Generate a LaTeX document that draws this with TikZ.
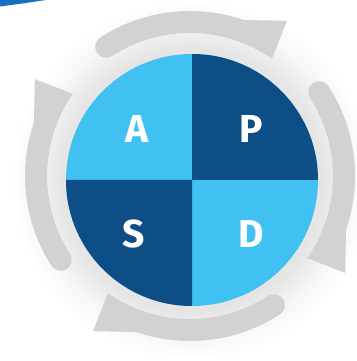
\documentclass[tikz,border=0pt]{standalone}
\usepackage{fontspec}
\setmainfont{Fira Sans}
\definecolor{lightq}{HTML}{40C1F1}
\definecolor{darkq}{HTML}{0D4E86}
\definecolor{ringgray}{HTML}{D2D2D2}
\definecolor{swoosh}{HTML}{1570C2}
% shading scaled so that 25bp = 200pt (1bp = 8pt)
\pgfdeclareradialshading{glow}{\pgfpoint{0bp}{0bp}}{color(0bp)=(black!10); color(16.5bp)=(black!10); color(18bp)=(black!7); color(20bp)=(black!3); color(22.5bp)=(white); color(50bp)=(white)}
\tikzset{
  letter/.style={text=white, font=\fontsize{39}{39}\selectfont\bfseries, inner sep=0pt, anchor=base},
  ringarrow/.style={fill=ringgray}
}
\newcommand{\ringarrow}[2]{%
  % #1 tail angle, #2 head angle (clockwise arrow)
  \fill[ringarrow] (#2:143pt) arc[start angle=#2, end angle=#1, radius=143pt]
    arc[start angle=#1+180, end angle=#1, radius=11pt]
    arc[start angle=#1, end angle=#2+16, radius=165pt]
    -- (#2+3:183pt) -- cycle;}
\begin{document}
\begin{tikzpicture}[x=1pt,y=1pt]
\useasboundingbox (0,0) rectangle (356,361);
\fill[white] (0,0) rectangle (356,361);
% soft glow
\shade[shading=glow] (192,181) circle (200pt);
% blue swoosh at top-left corner
\fill[swoosh] (0,361) -- (46,361) .. controls (26,358) .. (0,354.5) -- cycle;
% ring of arrows
\begin{scope}[shift={(190,185)}]
  \ringarrow{123}{55}
  \ringarrow{33}{-35}
  \ringarrow{-57}{-125}
  \ringarrow{213}{145}
\end{scope}
% circle
\coordinate (C) at (192,181);
\fill[lightq] (C) circle (126pt);
\fill[darkq] (C) -- ++(0:126pt) arc[start angle=0, end angle=90, radius=126pt] -- cycle;
\fill[darkq] (C) -- ++(180:126pt) arc[start angle=180, end angle=270, radius=126pt] -- cycle;
% letters
\node[letter] (A) at (137,218) {A};
\node[letter] (P) at (251,218) {P};
\node[letter] (S) at (134,113) {S};
\node[letter] (D) at (251,113) {D};
\end{tikzpicture}
\end{document}
